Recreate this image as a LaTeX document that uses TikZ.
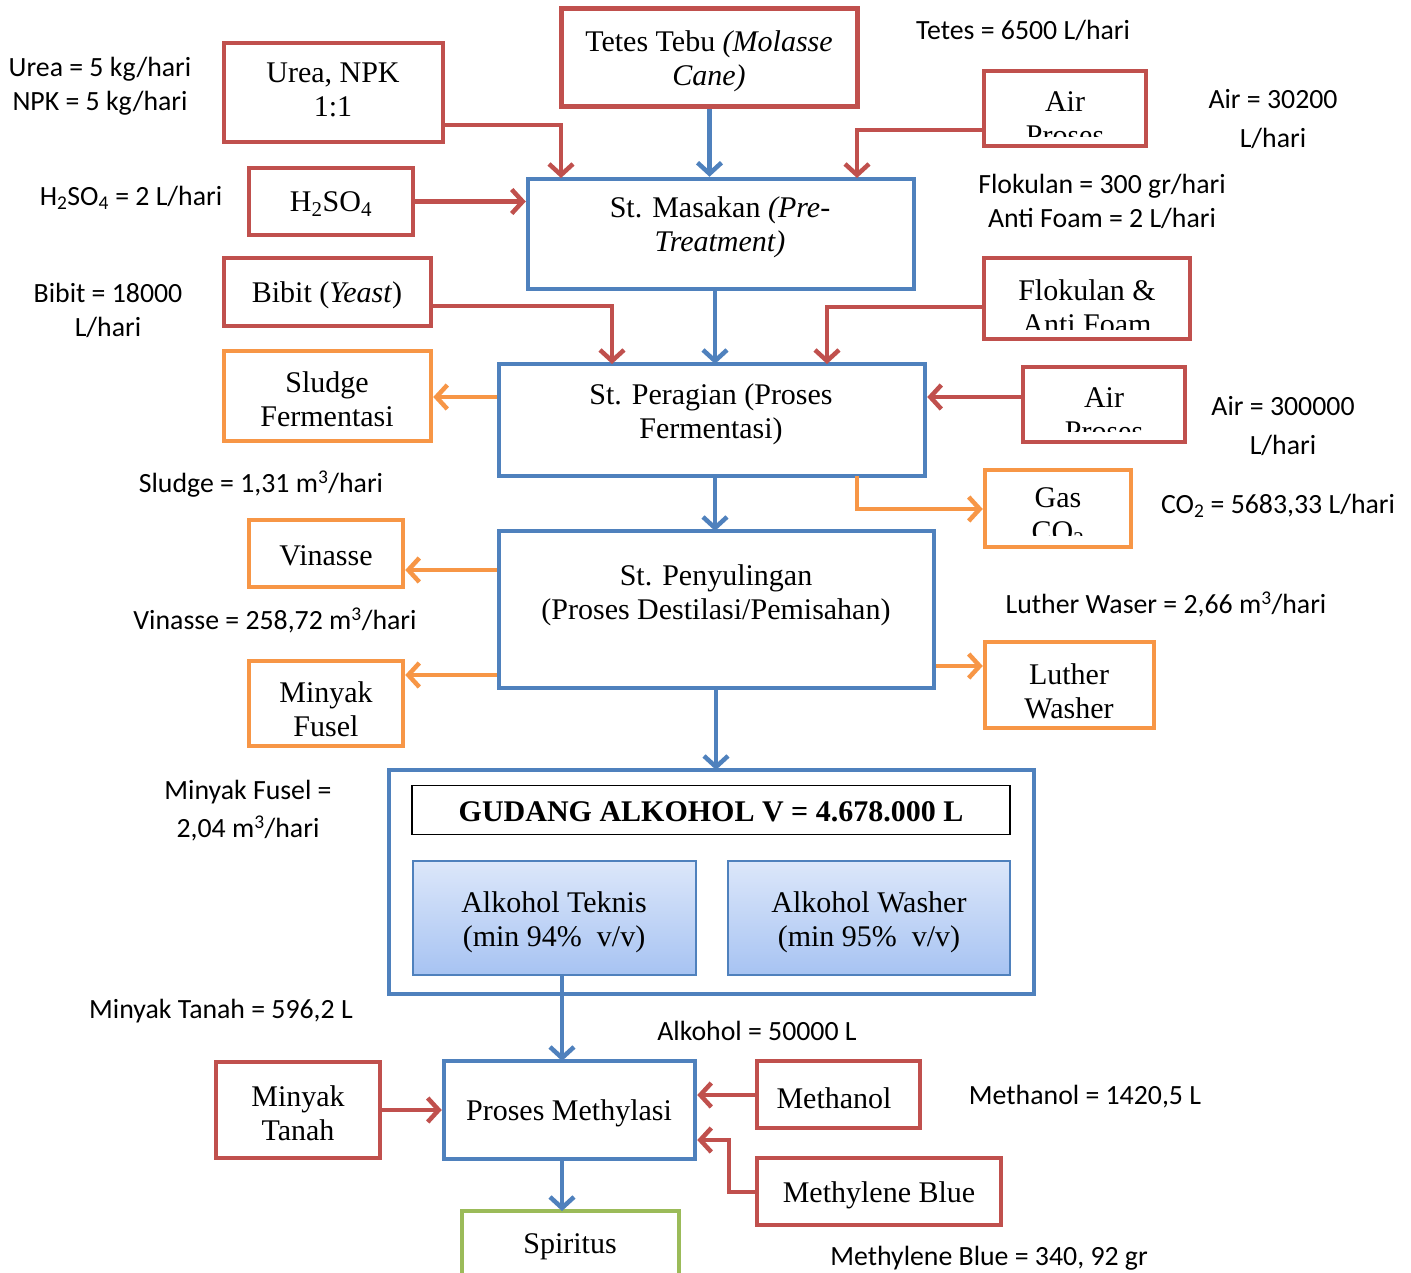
\documentclass[tikz,border=0pt]{standalone}
\usepackage{fontspec}
\setmainfont{Liberation Serif}
\newfontfamily\calib{Carlito}
\usetikzlibrary{arrows.meta}
\definecolor{cred}{HTML}{C0504D}
\definecolor{cblue}{HTML}{4F81BD}
\definecolor{corange}{HTML}{F79646}
\definecolor{cgreen}{HTML}{9BBB59}
\definecolor{gtop}{HTML}{DCE7FA}
\definecolor{gbot}{HTML}{A7C3F2}
\begin{document}
\begin{tikzpicture}[x=1pt,y=-1pt,
  bx/.style={rectangle, line width=4.5pt, inner sep=0pt},
  rbox/.style={bx, draw=cred},
  bbox/.style={bx, draw=cblue},
  obox/.style={bx, draw=corange},
  gbox/.style={bx, draw=cgreen},
  ser/.style={font=\fontsize{30}{34}\selectfont, align=center, inner sep=0pt},
  lab/.style={font=\calib\fontsize{27.8}{34}\selectfont, align=center, inner sep=0pt},
  arr/.style={line width=4.5pt, -{Straight Barb[length=11pt,width=24pt]}},
  ra/.style={arr, draw=cred},
  ba/.style={arr, draw=cblue},
  oa/.style={arr, draw=corange}]
\useasboundingbox (0,0) rectangle (1411,1272);
\fill[white] (0,0) rectangle (1411,1272);

% ---------- boxes ----------
\node[rbox, minimum width=219, minimum height=99] (urea) at (333.5,92.5) {};
\node[rbox, minimum width=296, minimum height=98] (tetes) at (709.5,57.5) {};
\node[rbox, minimum width=162, minimum height=75] (air1) at (1065,108.5) {};
\node[rbox, minimum width=164, minimum height=67] (h2so4) at (331,201.5) {};
\node[bbox, minimum width=386, minimum height=110] (masak) at (721,234) {};
\node[rbox, minimum width=207, minimum height=68] (bibit) at (327.5,292) {};
\node[rbox, minimum width=206, minimum height=81] (flok) at (1087,298.5) {};
\node[obox, minimum width=207, minimum height=90] (sludge) at (327.5,396) {};
\node[bbox, minimum width=426, minimum height=112] (ragi) at (712,420) {};
\node[rbox, minimum width=162, minimum height=75] (air2) at (1104,404.5) {};
\node[obox, minimum width=146, minimum height=77] (gas) at (1058,508.5) {};
\node[obox, minimum width=154, minimum height=67] (vin) at (326,553.5) {};
\node[bbox, minimum width=435, minimum height=157] (suling) at (716.5,609.5) {};
\node[obox, minimum width=154, minimum height=85] (fusel) at (326,703.5) {};
\node[obox, minimum width=169, minimum height=86] (luther) at (1069.5,685) {};
\node[bbox, minimum width=645, minimum height=224] (gudang) at (711.5,882) {};
\node[draw=black, line width=1.8pt, rectangle, minimum width=598, minimum height=49] (gtitle) at (711,810) {};
\node[draw=cblue, line width=1.3pt, rectangle, top color=gtop, bottom color=gbot, minimum width=283, minimum height=114] (teknis) at (554.5,918) {};
\node[draw=cblue, line width=1.3pt, rectangle, top color=gtop, bottom color=gbot, minimum width=282, minimum height=114] (washer) at (869,918) {};
\node[bbox, minimum width=251, minimum height=98] (methyl) at (569.5,1110) {};
\node[rbox, minimum width=164, minimum height=96] (tanah) at (298,1110) {};
\node[rbox, minimum width=163, minimum height=67] (meth) at (838.5,1094.5) {};
\node[rbox, minimum width=244, minimum height=67] (mblue) at (879,1191.5) {};
\node[gbox, minimum width=217, minimum height=70] (spirit) at (570.5,1246) {};

% ---------- box texts ----------
\node[ser] (tUrea) at (333,90) {Urea, NPK\\1:1};
\node[ser] (tTetes) at (709,61) {Tetes Tebu \textit{(Molasse}\\\textit{Cane)}};
\begin{scope}
  \clip (985,72) rectangle (1145,136);
  \node[ser] (tAir1) at (1065,119) {Air\\Proses};
\end{scope}
\node[ser] (tH) at (331,204) {H\textsubscript{2}SO\textsubscript{4}};
\node[ser] (tMasak) at (720,227) {St. Masakan \textit{(Pre-}\\\textit{Treatment)}};
\node[ser] (tBibit) at (327,295) {Bibit (\textit{Yeast})};
\begin{scope}
  \clip (985,259) rectangle (1189,329);
  \node[ser] (tFlok) at (1087,307) {Flokulan \&\\Anti Foam};
\end{scope}
\node[ser] (tSludge) at (327,399) {Sludge\\Fermentasi};
\node[ser] (tRagi) at (711,414) {St. Peragian (Proses\\Fermentasi)};
\begin{scope}
  \clip (1024,368) rectangle (1184,431);
  \node[ser] (tAir2) at (1104,415) {Air\\Proses};
\end{scope}
\begin{scope}
  \clip (986,471) rectangle (1130,535);
  \node[ser] (tGas) at (1058,517) {Gas\\CO\textsubscript{2}};
\end{scope}
\node[ser] (tVin) at (326,556) {Vinasse};
\node[ser] (tSuling) at (716,595) {St. Penyulingan\\(Proses Destilasi/Pemisahan)};
\node[ser] (tFusel) at (326,709) {Minyak\\Fusel};
\node[ser] (tLuther) at (1069,691) {Luther\\Washer};
\node[ser, font=\bfseries\fontsize{30}{34}\selectfont] (tG) at (711,812) {GUDANG ALKOHOL V = 4.678.000 L};
\node[ser] (tTek) at (554,922) {Alkohol Teknis\\(min 94\%\ \ v/v)};
\node[ser] (tWas) at (869,922) {Alkohol Washer\\(min 95\%\ \ v/v)};
\node[ser] (tMeth) at (569,1113) {Proses Methylasi};
\node[ser] (tTanah) at (298,1113) {Minyak\\Tanah};
\node[ser] (tMe) at (834,1098) {Methanol};
\node[ser] (tMb) at (879,1195) {Methylene Blue};
\node[ser] (tSp) at (570,1247) {Spiritus};

% ---------- side labels ----------
\node[lab] (lUrea) at (100,86) {Urea = 5 kg/hari\\NPK = 5 kg/hari};
\node[lab] (lTetes) at (1023,30) {Tetes = 6500 L/hari};
\node[lab, font=\calib\fontsize{27.8}{39}\selectfont] (lAir1) at (1273,119) {Air = 30200\\L/hari};
\node[lab] (lH) at (131,198) {H\textsubscript{2}SO\textsubscript{4} = 2 L/hari};
\node[lab] (lFlok) at (1102,201) {Flokulan = 300 gr/hari\\Anti Foam = 2 L/hari};
\node[lab] (lBibit) at (108,310) {Bibit = 18000\\L/hari};
\node[lab] (lSludge) at (261,484) {Sludge = 1,31 m\textsuperscript{3}/hari};
\node[lab, font=\calib\fontsize{27.8}{39}\selectfont] (lAir2) at (1283,426) {Air = 300000\\L/hari};
\node[lab] (lCO2) at (1278,506) {CO\textsubscript{2} = 5683,33 L/hari};
\node[lab] (lVin) at (275,620) {Vinasse = 258,72 m\textsuperscript{3}/hari};
\node[lab] (lLuther) at (1166,604) {Luther Waser = 2,66 m\textsuperscript{3}/hari};
\node[lab, font=\calib\fontsize{27.8}{38}\selectfont] (lFusel) at (248,811) {Minyak Fusel =\\2,04 m\textsuperscript{3}/hari};
\node[lab] (lTanah) at (221,1011) {Minyak Tanah = 596,2 L};
\node[lab] (lAlk) at (757,1031) {Alkohol = 50000 L};
\node[lab] (lMeth) at (1085,1097) {Methanol = 1420,5 L};
\node[lab] (lMb) at (989,1258) {Methylene Blue = 340, 92 gr};

% ---------- connectors ----------
\draw[ra] (urea.east |- 0,125) -| (561,178);
\draw[ba] (tetes.south) -- (tetes.south |- masak.north);
\draw[ra] (air1.west |- 0,130) -| (857,178);
\draw[ra] (h2so4.east) -- (h2so4.east -| masak.west);
\draw[ra] (bibit.east |- 0,306) -| (612,364);
\draw[ba] (715,289) -- (715,364);
\draw[ra] (flok.west |- 0,307) -| (827,364);
\draw[oa] (ragi.west |- 0,397) -- (sludge.east |- 0,397);
\draw[ra] (air2.west |- 0,397) -- (ragi.east |- 0,397);
\draw[oa] (857,476) |- (gas.west |- 0,509);
\draw[ba] (715,476) -- (715,531);
\draw[oa] (suling.west |- 0,570) -- (vin.east |- 0,570);
\draw[oa] (suling.west |- 0,675) -- (fusel.east |- 0,675);
\draw[oa] (suling.east |- 0,666) -- (luther.west |- 0,666);
\draw[ba] (716,688) -- (716,770);
\draw[ba] (562,975) -- (562,1061);
\draw[ra] (tanah.east |- 0,1110) -- (methyl.west |- 0,1110);
\draw[ra] (meth.west |- 0,1095) -- (methyl.east |- 0,1095);
\draw[ra] (mblue.west |- 0,1192) -- (729,1192) |- (methyl.east |- 0,1140);
\draw[ba] (562,1159) -- (562,1211);
\end{tikzpicture}
\end{document}
